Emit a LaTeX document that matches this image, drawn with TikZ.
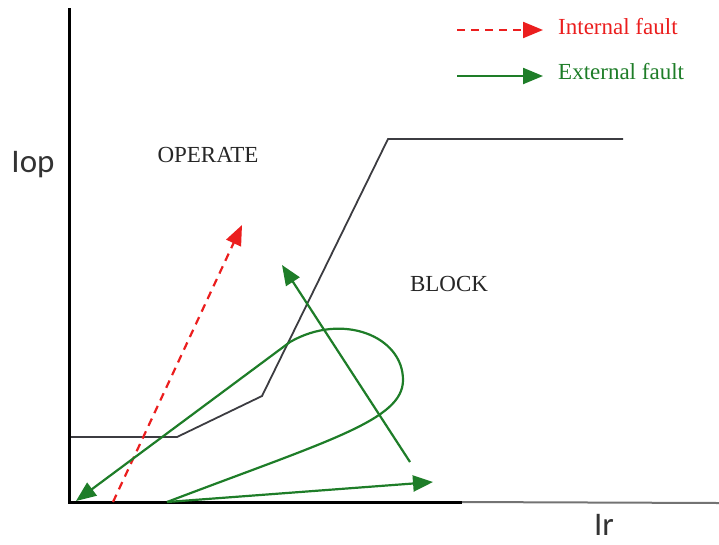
\documentclass[tikz,border=0pt]{standalone}
\usepackage{fontspec}
\setmainfont{Liberation Serif}
\newfontfamily\axisfont{Carlito}
\usetikzlibrary{arrows.meta}
\definecolor{fgreen}{RGB}{30,125,40}
\definecolor{fred}{RGB}{235,30,30}
\definecolor{charline}{RGB}{60,60,65}
\tikzset{
  axisline/.style={line width=3pt,black},
  charpath/.style={line width=1.8pt,charline,line join=miter},
  extarrow/.style={line width=2.2pt,fgreen,-{Triangle[length=20pt,width=16pt]}},
  intarrow/.style={line width=2.2pt,fred,dash pattern=on 8pt off 6pt,-{Triangle[length=20pt,width=16pt]}},
  region/.style={font=\fontsize{23}{25}\selectfont,text=black!85,inner sep=0pt},
  axlabel/.style={font=\axisfont\fontsize{33}{36}\selectfont,text=black!80,inner sep=0pt},
  legendtext/.style={font=\fontsize{23}{25}\selectfont,inner sep=0pt,anchor=west}
}
\begin{document}
\begin{tikzpicture}[x=1pt,y=-1pt]
\useasboundingbox (0,0) rectangle (719,544);
% axes
\coordinate (top) at (69,8);
\coordinate (orig) at (69,502);
\coordinate (xmid) at (462,502);
\coordinate (xend) at (719,503);
\draw[line width=2pt,black!55] (xmid) -- (xend);
\draw[axisline] (top) -- (orig) -- (xmid);
% characteristic
\coordinate (c1) at (71,437);
\coordinate (c2) at (177,437);
\coordinate (c3) at (262,396);
\coordinate (c4) at (388,139);
\coordinate (c5) at (623,139);
\draw[charpath] (c1) -- (c2) -- (c3) -- (c4) -- (c5);
% labels
\node[region] (op) at (208,155) {OPERATE};
\node[region] (bl) at (449,284) {BLOCK};
\node[axlabel] (iop) at (33,165) {Iop};
\node[axlabel] (ir) at (604,525) {Ir};
% internal fault arrow
\coordinate (r0) at (113,502);
\coordinate (r1) at (242,225);
\draw[intarrow] (r0) -- (r1);
% external fault arrows
\coordinate (g0) at (410,462);
\coordinate (g1) at (282,265);
\draw[extarrow] (g0) -- (g1);
\coordinate (s0) at (167,502);
\coordinate (s1) at (433,482);
\draw[extarrow] (s0) -- (s1);
\coordinate (lr) at (403,380);
\coordinate (lt) at (290,342);
\coordinate (le) at (76,501);
\draw[extarrow] (s0) .. controls (330,440) and (403,420) .. (lr)
  .. controls (403,336) and (342,312) .. (lt) -- (le);
% legend
\coordinate (lg1a) at (457,30);
\coordinate (lg1b) at (543,30);
\coordinate (lg2a) at (457,76);
\coordinate (lg2b) at (543,76);
\draw[intarrow] (lg1a) -- (lg1b);
\draw[extarrow] (lg2a) -- (lg2b);
\node[legendtext,text=fred] (lt1) at (558,27) {Internal fault};
\node[legendtext,text=fgreen] (lt2) at (558,72) {External fault};
\end{tikzpicture}
\end{document}
